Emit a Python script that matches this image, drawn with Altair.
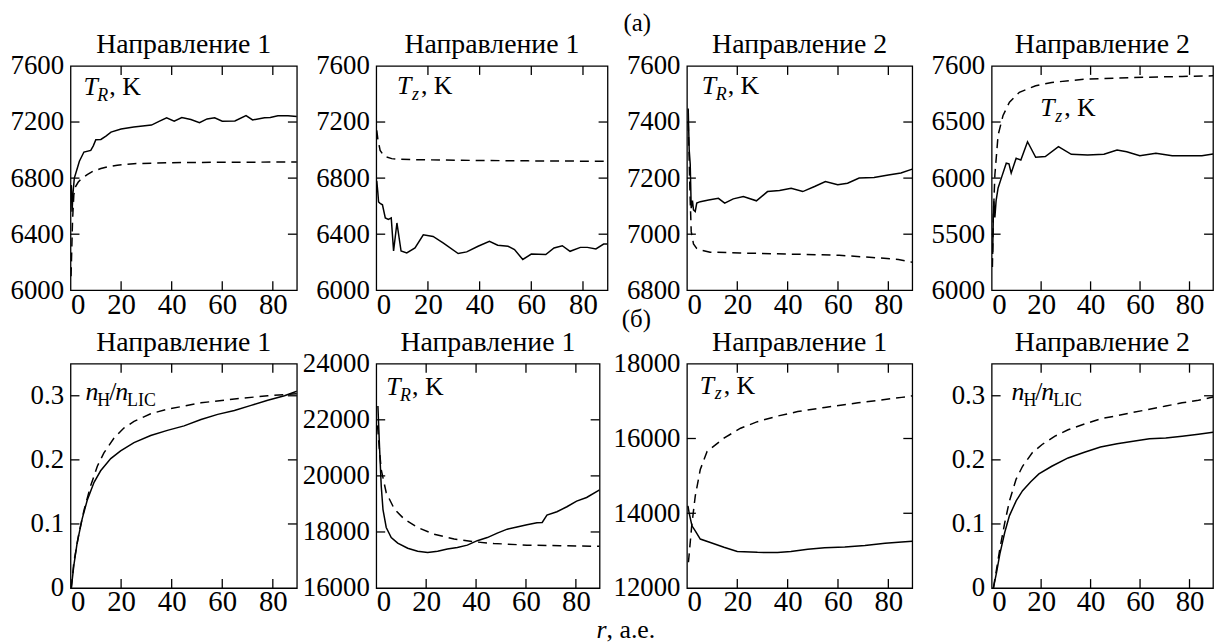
import altair as alt
import pandas as pd

FONT = "Liberation Serif"

# ---------------- data ----------------
X_TICKS = [0, 20, 40, 60, 80]
X_MAX = 89.5

PANEL_TITLES = ["Направление 1", "Направление 1", "Направление 2", "Направление 2",
                "Направление 1", "Направление 1", "Направление 1", "Направление 2"]

Y_DOMAINS = [[6000, 7600], [6000, 7600], [6800, 7600], [5000, 7000],
             [0, 0.35], [16000, 24000], [12000, 18000], [0, 0.35]]

Y_TICKS = [
    [6000, 6400, 6800, 7200, 7600],
    [6000, 6400, 6800, 7200, 7600],
    [6800, 7000, 7200, 7400, 7600],
    [5000, 5500, 6000, 6500, 7000],
    [0, 0.1, 0.2, 0.3],
    [16000, 18000, 20000, 22000, 24000],
    [12000, 14000, 16000, 18000],
    [0, 0.1, 0.2, 0.3],
]
Y_LABELS = [
    ["6000", "6400", "6800", "7200", "7600"],
    ["6000", "6400", "6800", "7200", "7600"],
    ["6800", "7000", "7200", "7400", "7600"],
    ["6000", "5500", "6000", "6500", "7600"],
    ["0", "0.1", "0.2", "0.3"],
    ["16000", "18000", "20000", "22000", "24000"],
    ["12000", "14000", "16000", "18000"],
    ["0", "0.1", "0.2", "0.3"],
]

# (а) panel 1: T_R, direction 1
A1_SOLID_R = [0.3, 0.6, 1.0, 1.5, 2.5, 3.5, 5.3, 8, 9, 10, 12, 14, 16, 20, 25, 32, 35, 38,
              41, 44, 47.6, 51, 54, 57, 60, 65, 69.4, 72, 76.7, 79, 82, 86, 89.5]
A1_SOLID_V = [6750, 6560, 6700, 6800, 6860, 6920, 6986, 6998, 7030, 7074, 7076, 7100, 7128,
              7150, 7165, 7178, 7205, 7230, 7206, 7232, 7218, 7195, 7222, 7230, 7206, 7208,
              7246, 7215, 7230, 7232, 7245, 7245, 7240]
A1_DASH_R = [0.2, 0.5, 0.8, 1.3, 2, 3, 4, 6.6, 9, 12, 15, 18.5, 25, 38, 60, 89.5]
A1_DASH_V = [6100, 6300, 6500, 6680, 6740, 6770, 6790, 6825, 6850, 6868, 6882, 6892, 6903,
             6910, 6913, 6915]

# (а) panel 2: T_z, direction 1
A2_SOLID_R = [0.2, 0.6, 0.9, 1.5, 2.4, 3.5, 4.7, 5.8, 6.7, 8, 9.6, 11.8, 15, 18.2, 22, 26,
              31.7, 35, 39.4, 43.8, 47, 51, 53.5, 56.7, 60, 65.6, 68.8, 72, 75, 79, 81.7,
              85, 88, 89.5]
A2_SOLID_V = [6780, 6700, 6630, 6620, 6610, 6516, 6505, 6516, 6280, 6480, 6280, 6267, 6302,
              6396, 6384, 6337, 6262, 6274, 6314, 6349, 6321, 6314, 6290, 6220, 6258, 6255,
              6302, 6318, 6278, 6306, 6306, 6295, 6330, 6330]
A2_DASH_R = [0.2, 0.6, 1.5, 2.8, 4, 6, 9, 13.7, 33, 58.6, 89.5]
A2_DASH_V = [7140, 7080, 6998, 6963, 6950, 6939, 6934, 6932, 6927, 6923, 6920]

# (а) panel 3: T_R, direction 2
A3_SOLID_R = [0.5, 0.9, 1.3, 1.7, 2.2, 2.6, 3.3, 3.9, 5.3, 8.6, 12.5, 15, 18.4, 22.4, 27.6,
              32, 36.8, 41.4, 46, 50.7, 55, 59.9, 63.8, 68.4, 74.3, 80, 85, 89.5]
A3_SOLID_V = [7448, 7300, 7250, 7093, 7120, 7087, 7081, 7111, 7116, 7122, 7128, 7111, 7126,
              7134, 7119, 7152, 7156, 7164, 7152, 7170, 7188, 7176, 7182, 7200, 7202, 7211,
              7218, 7232]
A3_DASH_R = [0.5, 0.8, 1.2, 1.7, 2.6, 3.8, 5.3, 9.2, 21, 40.8, 60.5, 73.7, 84, 89.5]
A3_DASH_V = [7400, 7300, 7150, 7010, 6965, 6950, 6944, 6936, 6933, 6929, 6925, 6917, 6910,
             6900]

# (а) panel 4: T_z, direction 2
A4_SOLID_R = [0.4, 0.7, 0.9, 1.3, 1.8, 2.6, 3.9, 5.9, 7, 7.9, 9.9, 11.8, 14.5, 17.8, 21.7,
              27, 32.2, 38.8, 45.4, 50.7, 54.6, 59.9, 66.4, 73, 79.6, 85, 89.5]
A4_SOLID_V = [5324, 5700, 5794, 5650, 5800, 5912, 6000, 6133, 6127, 6045, 6177, 6162, 6324,
              6186, 6192, 6280, 6212, 6206, 6212, 6250, 6235, 6200, 6221, 6200, 6200, 6200,
              6215]
A4_DASH_R = [0.3, 0.66, 1.3, 2.6, 4.6, 7.2, 11.2, 17.8, 24.3, 37.5, 57, 77, 89.5]
A4_DASH_V = [5207, 5648, 6030, 6383, 6559, 6677, 6765, 6824, 6853, 6882, 6897, 6906, 6912]

# (б) panel 1: n_H/n_LIC, direction 1
B1_SOLID_R = [0.3, 1.3, 2.6, 4.6, 6.6, 9.3, 11.9, 15.9, 19.8, 25.1, 31.7, 38.3, 44.9, 51.6,
              58.2, 64.8, 71.4, 78, 84.6, 89.5]
B1_SOLID_V = [0, 0.035, 0.07, 0.108, 0.137, 0.165, 0.183, 0.202, 0.214, 0.227, 0.238, 0.246,
              0.253, 0.263, 0.271, 0.277, 0.285, 0.293, 0.300, 0.307]
B1_DASH_R = [0.3, 1.3, 3.3, 5.3, 7.9, 10.6, 13.2, 17.2, 21.2, 25.1, 31.7, 38.3, 51.6, 64.8,
             78, 89.5]
B1_DASH_V = [0, 0.04, 0.085, 0.121, 0.159, 0.19, 0.211, 0.234, 0.25, 0.260, 0.272, 0.279,
             0.289, 0.295, 0.300, 0.303]

# (б) panel 2: T_R, direction 1
B2_SOLID_R = [0.66, 1.3, 2, 2.7, 4, 6, 8.6, 12.6, 16.6, 20.6, 24.6, 28.5, 32.5, 36.5, 40.5,
              44.5, 48.5, 52.5, 56.4, 60.4, 64.4, 66.5, 68.4, 72.4, 76.4, 80.3, 84.3, 89.5]
B2_SOLID_V = [22490, 21050, 19630, 18800, 18160, 17800, 17600, 17420, 17310, 17270, 17310,
              17390, 17450, 17530, 17690, 17800, 17960, 18100, 18180, 18260, 18330, 18340,
              18600, 18720, 18900, 19100, 19230, 19500]
B2_DASH_R = [0.5, 1.2, 2, 4, 7.3, 11.3, 16.6, 23.2, 31.2, 39.2, 47.1, 60.4, 73.7, 89.5]
B2_DASH_V = [21800, 21000, 20220, 19400, 18810, 18450, 18160, 17920, 17750, 17650, 17590,
             17530, 17510, 17490]

# (б) panel 3: T_z, direction 1
B3_SOLID_R = [0.4, 0.9, 2, 3.3, 5.3, 9.3, 14.7, 20, 28, 36, 41.3, 48, 54.7, 62.7, 70.7,
              78.7, 85.3, 89.5]
B3_SOLID_V = [14200, 14000, 13665, 13530, 13310, 13220, 13090, 12980, 12955, 12950, 12980,
              13040, 13080, 13100, 13140, 13200, 13230, 13250]
B3_DASH_R = [0.6, 1.9, 3.3, 5.3, 8, 14.7, 21.3, 28, 36, 44, 54.7, 68, 85.3, 89.5]
B3_DASH_V = [12690, 13665, 14460, 15170, 15655, 16010, 16275, 16450, 16600, 16720, 16830,
             16955, 17100, 17140]

# (б) panel 4: n_H/n_LIC, direction 2
B4_SOLID_R = [0.7, 2, 3.3, 5.3, 7.2, 9.9, 12.5, 15.8, 19.1, 24.3, 30.9, 37.5, 44, 50.7,
              57.2, 63.8, 70.4, 77, 83.6, 89.5]
B4_SOLID_V = [0, 0.025, 0.053, 0.087, 0.113, 0.136, 0.152, 0.166, 0.178, 0.19, 0.203,
              0.212, 0.22, 0.225, 0.229, 0.233, 0.234, 0.237, 0.24, 0.243]
B4_DASH_R = [0.7, 2, 3.3, 5.3, 7.2, 9.9, 12.5, 16.4, 20.4, 25.6, 30.9, 37.5, 44, 50.7, 57.2,
             63.8, 70.4, 77, 83.6, 89.5]
B4_DASH_V = [0, 0.03, 0.061, 0.102, 0.136, 0.17, 0.19, 0.211, 0.224, 0.237, 0.247, 0.256,
             0.264, 0.269, 0.274, 0.279, 0.284, 0.289, 0.293, 0.298]

SERIES = [
    (A1_SOLID_R, A1_SOLID_V, A1_DASH_R, A1_DASH_V),
    (A2_SOLID_R, A2_SOLID_V, A2_DASH_R, A2_DASH_V),
    (A3_SOLID_R, A3_SOLID_V, A3_DASH_R, A3_DASH_V),
    (A4_SOLID_R, A4_SOLID_V, A4_DASH_R, A4_DASH_V),
    (B1_SOLID_R, B1_SOLID_V, B1_DASH_R, B1_DASH_V),
    (B2_SOLID_R, B2_SOLID_V, B2_DASH_R, B2_DASH_V),
    (B3_SOLID_R, B3_SOLID_V, B3_DASH_R, B3_DASH_V),
    (B4_SOLID_R, B4_SOLID_V, B4_DASH_R, B4_DASH_V),
]

# quantity label of each panel
QUANTITY = ["TR", "Tz", "TR", "Tz", "nH", "TR", "Tz", "nH"]

# ---------------- layout ----------------
WIDTHS = [228, 233, 227, 223, 228, 225, 227, 223]
HEIGHT = 226
TICK = 9
ANNOT_POS = [(13, 29), (21, 28), (15, 28), (49, 50), (15, 37), (10, 32), (13, 30), (20, 37)]

# text pieces: (text, dx, dy, size, italic)
PIECES = {
    "TR": [("T", 0, 0, 26, True), ("R", 14, 6, 18, True), (", K", 26, 0, 26, False)],
    "Tz": [("T", 0, 0, 26, True), ("z", 15, 6, 18, True), (", K", 24, 0, 26, False)],
    "nH": [("n", 0, 0, 26, True), ("H", 12, 6, 18, False), ("/", 24, 0, 26, False),
           ("n", 30, 0, 26, True), ("LIC", 42, 6, 18, False)],
}

ONE = pd.DataFrame({"k": [0]})


def text_piece(text, x, y, size, italic=False, align="left"):
    return alt.Chart(ONE).mark_text(
        text=text, font=FONT, fontSize=size, fontStyle="italic" if italic else "normal",
        align=align, baseline="alphabetic", color="black"
    ).encode(x=alt.value(x), y=alt.value(y))


def label_expr(ticks, labels):
    parts = [f"abs(datum.value - ({t})) < 1e-6 ? '{l}'" for t, l in zip(ticks, labels)]
    return " : ".join(parts) + " : ''"


def panel(i):
    w = WIDTHS[i]
    h = HEIGHT
    sr, sv, dr, dv = SERIES[i]
    ydom = Y_DOMAINS[i]
    xs = alt.Scale(domain=[0, X_MAX], nice=False, zero=False)
    ys = alt.Scale(domain=ydom, nice=False, zero=False)
    x_axis = alt.Axis(values=X_TICKS, labelFont=FONT, labelFontSize=29, labelColor="black",
                      labelPadding=0, ticks=False, tickSize=0, domain=False, grid=False,
                      title=None, labelAngle=0, labelOverlap=False, format="d")
    y_axis = alt.Axis(values=Y_TICKS[i], labelExpr=label_expr(Y_TICKS[i], Y_LABELS[i]),
                      labelFont=FONT, labelFontSize=27, labelColor="black", labelPadding=7,
                      ticks=False, tickSize=0, domain=False, grid=False, title=None,
                      labelOverlap=False)
    X = alt.X("r:Q", scale=xs, axis=x_axis)
    Y = alt.Y("v:Q", scale=ys, axis=y_axis)

    solid = alt.Chart(pd.DataFrame({"r": sr, "v": sv})).mark_line(
        color="black", strokeWidth=1.5, clip=True).encode(x=X, y=Y)
    dashed = alt.Chart(pd.DataFrame({"r": dr, "v": dv})).mark_line(
        color="black", strokeWidth=1.5, strokeDash=[9, 6], clip=True).encode(x=X, y=Y)

    xt = pd.DataFrame({"r": [t for t in X_TICKS if 0 < t < X_MAX]})
    yt = pd.DataFrame({"v": [t for t in Y_TICKS[i] if ydom[0] < t < ydom[1]]})
    rule = dict(color="black", strokeWidth=1.3)
    ticks = [
        alt.Chart(xt).mark_rule(**rule).encode(x=X, y=alt.value(0), y2=alt.value(TICK)),
        alt.Chart(xt).mark_rule(**rule).encode(x=X, y=alt.value(h), y2=alt.value(h - TICK)),
        alt.Chart(yt).mark_rule(**rule).encode(y=Y, x=alt.value(0), x2=alt.value(TICK)),
        alt.Chart(yt).mark_rule(**rule).encode(y=Y, x=alt.value(w), x2=alt.value(w - TICK)),
    ]

    ax, ay = ANNOT_POS[i]
    texts = [text_piece(t, ax + dx, ay + dy, s, it) for (t, dx, dy, s, it) in PIECES[QUANTITY[i]]]
    texts.append(text_piece(PANEL_TITLES[i], w / 2, -13, 28, align="center"))

    if i == 2:  # row labels placed relative to the third column of the top row
        texts.append(text_piece("(а)", -50, -35, 25, align="center"))
        texts.append(text_piece("(б)", -51, 263, 25, align="center"))
    if i == 6:
        texts.append(text_piece("r", -91, 276, 26, italic=True))
        texts.append(text_piece(", а.е.", -81, 276, 26))

    layers = [solid, dashed] + ticks + texts
    return alt.layer(*layers).properties(width=w, height=h)


chart = alt.concat(*[panel(i) for i in range(8)], columns=4,
                   spacing={"row": 74, "column": 80}, bounds="flush").properties(
    padding={"left": 1, "top": 0, "right": 0, "bottom": 0},
    background="white",
).configure(font=FONT).configure_view(stroke="black", strokeWidth=1.3).configure_axis(
    labelFont=FONT, labelColor="black"
)

chart.save("out.html", embed_options={"renderer": "svg", "actions": False})
